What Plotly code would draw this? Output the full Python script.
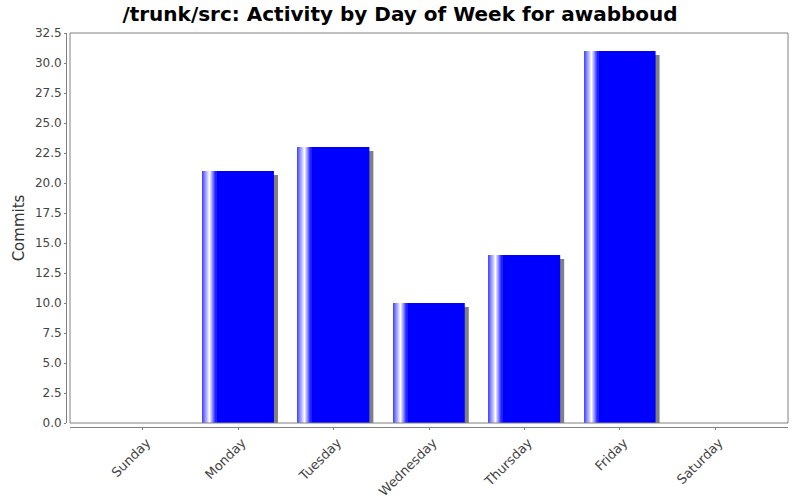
import plotly.graph_objects as go

days = ['Sunday', 'Monday', 'Tuesday', 'Wednesday', 'Thursday', 'Friday', 'Saturday']
commits = [0, 21, 23, 10, 14, 31, 0]
y_ticks = [0, 2.5, 5, 7.5, 10, 12.5, 15, 17.5, 20, 22.5, 25, 27.5, 30, 32.5]

xpos = list(range(len(days)))
bar_w = 0.75
px = 1 / 95.4          # one pixel in x units
py = 1 / 12.0          # one pixel in y units


def mix(t):
    # t=0 -> pure blue, t=1 -> white
    v = int(round(255 * t))
    return 'rgb(%d,%d,255)' % (v, v)


fig = go.Figure()

# drop shadow, 4px right and 4px down
fig.add_trace(go.Bar(
    x=xpos, y=commits, base=-4 * py, width=bar_w, offset=-bar_w / 2 + 4 * px,
    marker=dict(color='rgb(128,128,128)', line=dict(width=0)),
    hoverinfo='skip', showlegend=False,
))

# main bar
fig.add_trace(go.Bar(
    x=xpos, y=commits, width=bar_w, offset=-bar_w / 2,
    marker=dict(color='rgb(0,0,255)', line=dict(width=0)),
    showlegend=False,
))

# highlight near left edge
profile = [0.3, 0.4, 0.5, 0.6, 0.7, 0.8, 0.9, 1.0, 0.85, 0.7, 0.55, 0.4, 0.25, 0.12]
for k, t in enumerate(profile):
    fig.add_trace(go.Bar(
        x=xpos, y=commits, width=px * 1.05, offset=-bar_w / 2 + k * px,
        marker=dict(color=mix(t), line=dict(width=0)),
        hoverinfo='skip', showlegend=False,
    ))

fig.update_layout(
    width=800, height=500,
    barmode='overlay',
    paper_bgcolor='white', plot_bgcolor='white',
    margin=dict(l=66, r=12, t=33, b=73, autoexpand=False),
    font=dict(family='DejaVu Sans', color='#444444'),
    title=dict(text='/trunk/src: Activity by Day of Week for awabboud',
               x=0.5, xanchor='center', y=0.972, yanchor='middle',
               font=dict(size=20, color='black', family='DejaVu Sans', weight='bold')),
    xaxis=dict(
        domain=[4 / 722, 1], anchor='free', position=0, automargin=False,
        range=[-0.763, 6.763], tickmode='array', tickvals=xpos, ticktext=days,
        tickangle=-45, tickfont=dict(size=13, color='#444444'),
        ticklabelshift=4, ticklabelstandoff=0,
        showline=True, linecolor='#808080', linewidth=1,
        ticks='outside', ticklen=2, tickcolor='#808080',
        showgrid=False, zeroline=False, fixedrange=True,
    ),
    yaxis=dict(
        domain=[4 / 394, 1], anchor='free', position=0, automargin=False,
        range=[0, 32.5], tickmode='array', tickvals=y_ticks,
        ticktext=['%.1f' % v for v in y_ticks],
        tickfont=dict(size=12, color='#444444'),
        showline=True, linecolor='#808080', linewidth=1,
        ticks='outside', ticklen=2, tickcolor='#808080',
        showgrid=False, zeroline=False,
        title=dict(text='Commits', font=dict(size=15, color='#333333'), standoff=5),
    ),
    shapes=[dict(type='rect', xref='x domain', yref='y domain', x0=0, x1=1, y0=0, y1=1,
                 line=dict(color='#808080', width=1), fillcolor='rgba(0,0,0,0)', layer='above')],
)

# drop the browser's default 8px page margin so the figure sits at the window corner
fig.write_html('out.html', config={'displayModeBar': False},
               post_script="document.body.style.margin='0';")
